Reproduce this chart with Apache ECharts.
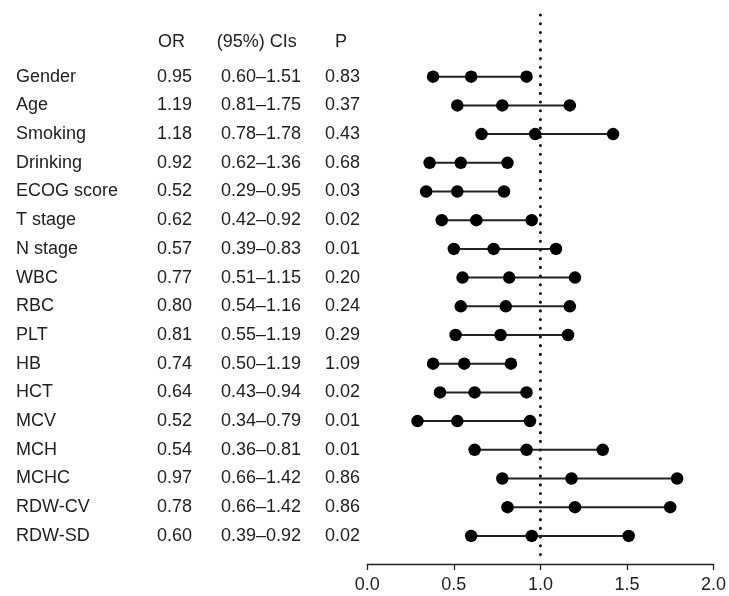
<!DOCTYPE html>
<html>
<head>
<meta charset="utf-8">
<script src="https://cdn.jsdelivr.net/npm/echarts@6/dist/echarts.min.js"></script>
<style>html,body{margin:0;padding:0;background:#fff}#c{width:729px;height:596px}</style>
</head>
<body>
<div id="c"></div>
<script>
var categories = ["Gender","Age","Smoking","Drinking","ECOG score","T stage","N stage","WBC","RBC","PLT","HB","HCT","MCV","MCH","MCHC","RDW-CV","RDW-SD"];
var orText = ["0.95","1.19","1.18","0.92","0.52","0.62","0.57","0.77","0.80","0.81","0.74","0.64","0.52","0.54","0.97","0.78","0.60"];
var ciText = ["0.60–1.51","0.81–1.75","0.78–1.78","0.62–1.36","0.29–0.95","0.42–0.92","0.39–0.83","0.51–1.15","0.54–1.16","0.55–1.19","0.50–1.19","0.43–0.94","0.34–0.79","0.36–0.81","0.66–1.42","0.66–1.42","0.39–0.92"];
var pText = ["0.83","0.37","0.43","0.68","0.03","0.02","0.01","0.20","0.24","0.29","1.09","0.02","0.01","0.01","0.86","0.86","0.02"];
var headers = ["OR","(95%) CIs","P"];
// plotted dot positions
var dotLow  = [0.38,0.52,0.66,0.36,0.34,0.43,0.50,0.55,0.54,0.51,0.38,0.42,0.29,0.62,0.78,0.81,0.60];
var dotMid  = [0.60,0.78,0.97,0.54,0.52,0.63,0.73,0.82,0.80,0.77,0.56,0.62,0.52,0.92,1.18,1.20,0.95];
var dotHigh = [0.92,1.17,1.42,0.81,0.79,0.95,1.09,1.20,1.17,1.16,0.83,0.92,0.94,1.36,1.79,1.75,1.51];
var xTicks = [0, 0.5, 1.0, 1.5, 2.0];
var refValue = 1.0;

var FONT = "'Liberation Sans', Arial, Helvetica, sans-serif";
var TXT = '#222';

var chart = echarts.init(document.getElementById('c'), null, {renderer: 'canvas'});

function pts(arr) { return arr.map(function (v, i) { return [v, i]; }); }
var segs = categories.map(function (c, i) { return [dotLow[i], dotHigh[i], i]; });

var option = {
  animation: false,
  backgroundColor: '#fff',
  grid: {left: 367.3, right: 13.3, top: 62.35, height: 487.9},
  xAxis: {
    type: 'value', min: xTicks[0], max: xTicks[xTicks.length - 1], interval: 0.5,
    offset: 13.75,
    axisLine: {show: true, lineStyle: {color: TXT, width: 1.3}},
    axisTick: {show: true, inside: false, length: 6, lineStyle: {color: TXT, width: 1.3}},
    axisLabel: {margin: 12, color: TXT, fontSize: 18, fontFamily: FONT,
      formatter: function (v) { return v.toFixed(1); }},
    splitLine: {show: false}
  },
  yAxis: {
    type: 'category', data: categories, inverse: true,
    axisLine: {show: false}, axisTick: {show: false}, splitLine: {show: false},
    axisLabel: {
      interval: 0, margin: 351.3, align: 'left', color: TXT, fontSize: 18, fontFamily: FONT,
      formatter: function (v, i) {
        return '{a|' + v + '}{b|' + orText[i] + '}{c|' + ciText[i] + '}{d|' + pText[i] + '}';
      },
      rich: {
        a: {width: 141, fontSize: 18, fontFamily: FONT, color: TXT},
        b: {width: 64, fontSize: 18, fontFamily: FONT, color: TXT},
        c: {width: 104, fontSize: 18, fontFamily: FONT, color: TXT},
        d: {width: 40, fontSize: 18, fontFamily: FONT, color: TXT}
      }
    }
  },
  graphic: [
    {type: 'text', left: 158, top: 33, style: {text: headers[0], fontSize: 18, fontFamily: FONT, fill: TXT}},
    {type: 'text', left: 216.7, top: 33, style: {text: headers[1], fontSize: 18, fontFamily: FONT, fill: TXT}},
    {type: 'text', left: 335, top: 33, style: {text: headers[2], fontSize: 18, fontFamily: FONT, fill: TXT}}
  ],
  series: [
    {
      type: 'custom', z: 1, clip: false,
      data: [[refValue]],
      renderItem: function (params, api) {
        var x = api.coord([api.value(0), 0])[0];
        return {type: 'line', shape: {x1: x, y1: 15, x2: x, y2: 556},
          style: {stroke: '#111', lineWidth: 3, lineDash: [0.1, 8.6], lineCap: 'round'}};
      }
    },
    {
      type: 'custom', z: 2,
      data: segs,
      renderItem: function (params, api) {
        var p1 = api.coord([api.value(0), api.value(2)]);
        var p2 = api.coord([api.value(1), api.value(2)]);
        return {type: 'line', shape: {x1: p1[0], y1: p1[1], x2: p2[0], y2: p2[1]},
          style: {stroke: '#222', lineWidth: 2}};
      }
    },
    {type: 'scatter', z: 3, data: pts(dotLow), symbol: 'circle', symbolSize: 12.5, itemStyle: {color: '#000', opacity: 1}},
    {type: 'scatter', z: 3, data: pts(dotMid), symbol: 'circle', symbolSize: 12.5, itemStyle: {color: '#000', opacity: 1}},
    {type: 'scatter', z: 3, data: pts(dotHigh), symbol: 'circle', symbolSize: 12.5, itemStyle: {color: '#000', opacity: 1}}
  ]
};
chart.setOption(option);
</script>
</body>
</html>
